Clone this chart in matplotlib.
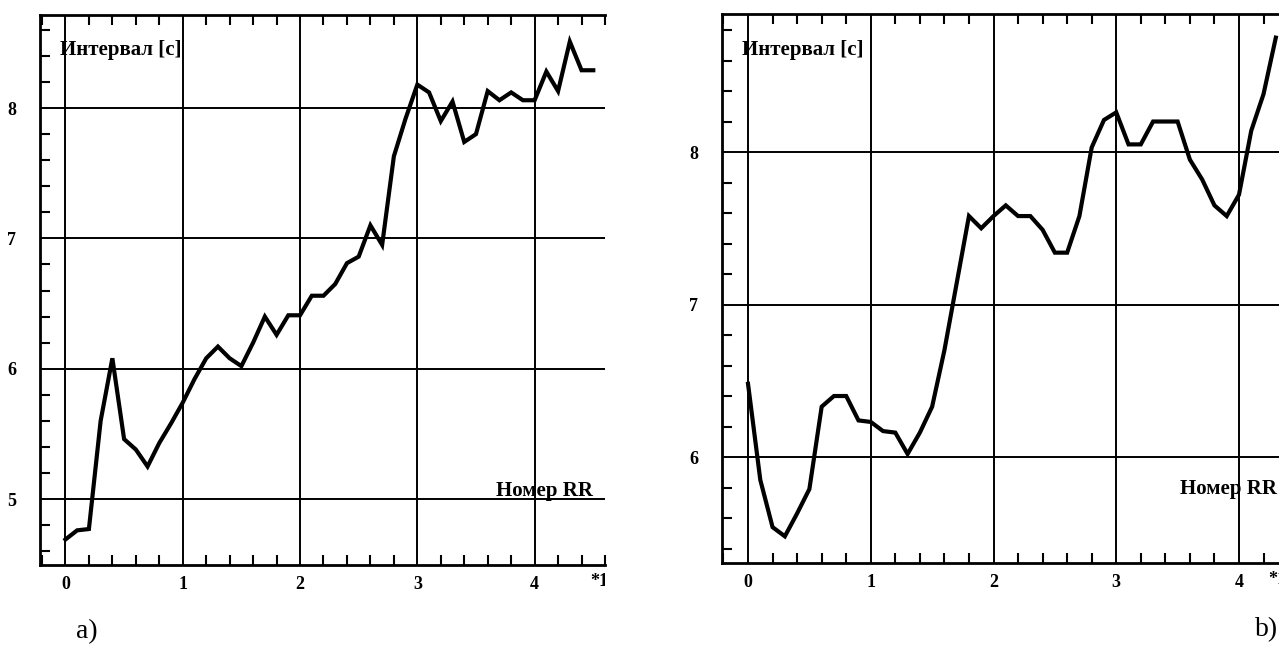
import matplotlib
matplotlib.use("Agg")
import matplotlib.pyplot as plt
import numpy as np
from matplotlib.ticker import MultipleLocator
from matplotlib.transforms import Bbox, TransformedBbox

plt.rcParams['font.family'] = ['Liberation Serif', 'DejaVu Serif']

# RR intervals, one point every 0.1 on the x scale (x shown in units of *10 beats)
step = 0.1
rr_a = [4.69, 4.76, 4.77, 5.60, 6.08, 5.46, 5.38, 5.25, 5.43, 5.58,
        5.74, 5.92, 6.08, 6.17, 6.08, 6.02, 6.20, 6.40, 6.26, 6.41,
        6.41, 6.56, 6.56, 6.65, 6.81, 6.86, 7.10, 6.95, 7.63, 7.92,
        8.18, 8.12, 7.90, 8.05, 7.74, 7.80, 8.13, 8.06, 8.12, 8.06,
        8.06, 8.28, 8.13, 8.51, 8.29, 8.29]
rr_b = [6.48, 5.85, 5.54, 5.48, 5.63, 5.79, 6.33, 6.40, 6.40, 6.24,
        6.23, 6.17, 6.16, 6.02, 6.16, 6.33, 6.70, 7.14, 7.58, 7.50,
        7.58, 7.65, 7.58, 7.58, 7.49, 7.34, 7.34, 7.58, 8.03, 8.21,
        8.26, 8.05, 8.05, 8.20, 8.20, 8.20, 7.95, 7.82, 7.65, 7.58,
        7.72, 8.14, 8.38, 8.75]

x_ticks = [0, 1, 2, 3, 4]
y_label = "Интервал [c]"
x_label = "Номер RR"

W, H = 1279, 649
fig = plt.figure(figsize=(W / 100, H / 100), dpi=100)


def panel(rect, rr, xlim, ylim, yticks, ylab_pos, xlab_pos):
    l, t, r, b = rect
    ax = fig.add_axes([l / W, 1 - b / H, (r - l) / W, (b - t) / H])
    x = np.arange(len(rr)) * step
    ax.plot(x, rr, color='black', lw=3.0, solid_joinstyle='miter', zorder=3)
    ax.set_xlim(*xlim)
    ax.set_ylim(*ylim)
    ax.set_xticks(x_ticks)
    ax.set_yticks(yticks)
    ax.xaxis.set_minor_locator(MultipleLocator(0.2))
    ax.yaxis.set_minor_locator(MultipleLocator(0.2))
    ax.grid(True, which='major', color='black', lw=1.4)
    ax.tick_params(which='major', length=0, labelsize=13)
    ax.tick_params(axis='y', which='major', pad=17)
    ax.tick_params(axis='x', which='major', pad=8)
    ax.tick_params(which='minor', direction='in', length=7, width=1.5,
                   top=True, bottom=True, left=True, right=False)
    for lab in ax.get_xticklabels() + ax.get_yticklabels():
        lab.set_fontweight('bold')
    ax.spines['right'].set_visible(False)
    for s in ['left', 'top', 'bottom']:
        ax.spines[s].set_linewidth(2)
    ax.text(ylab_pos[0], ylab_pos[1], y_label, fontsize=15, fontweight='bold',
            ha='left', va='center', zorder=4)
    ax.text(xlab_pos[0], xlab_pos[1], x_label, fontsize=15, fontweight='bold',
            ha='right', va='center', zorder=4)
    return ax


ax_a = panel((40, 15, 605, 565), rr_a, (-0.217, 4.60), (4.494, 8.714),
             [5, 6, 7, 8], (-0.05, 8.445), (4.50, 5.06))
ax_b = panel((722, 14, 1279, 563), rr_b, (-0.212, 4.326), (5.305, 8.905),
             [6, 7, 8], (-0.05, 8.67), (4.31, 5.79))

# axis multiplier, cut off by the picture edges
t = fig.text(590 / W, 1 - 581 / H, "*1", fontsize=13, fontweight='bold',
             ha='left', va='center', clip_on=True)
t.set_clip_box(TransformedBbox(Bbox.from_extents(0, 0, 605 / W, 1), fig.transFigure))
fig.text(1268 / W, 1 - 579 / H, "*1", fontsize=13, fontweight='bold',
         ha='left', va='center')

fig.text(76 / W, 1 - 632 / H, "a)", fontsize=20, ha='left', va='center')
fig.text(1255 / W, 1 - 630 / H, "b)", fontsize=20, ha='left', va='center')

fig.savefig("out.png", dpi=100)
